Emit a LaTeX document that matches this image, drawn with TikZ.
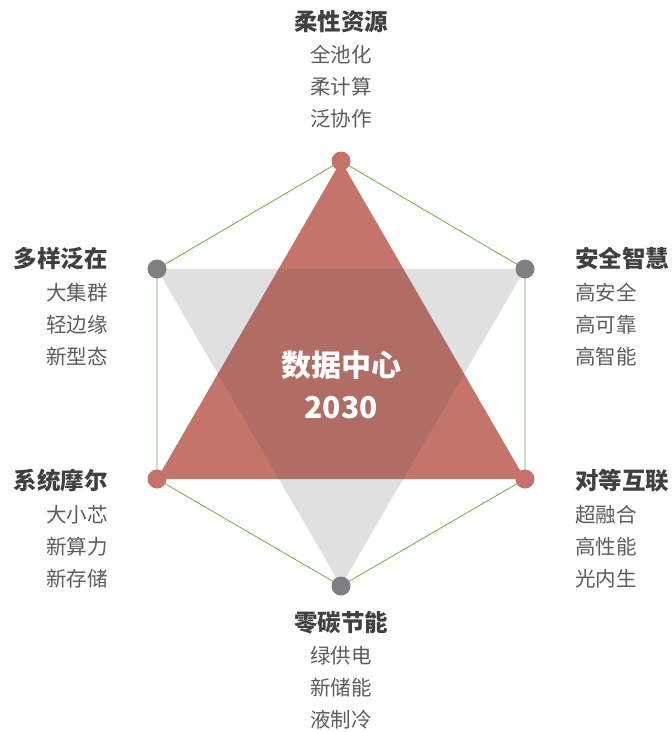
\documentclass[tikz,border=0pt]{standalone}
\usepackage{fontspec}
\setmainfont{Noto Sans CJK SC}
\usetikzlibrary{positioning}
\definecolor{hexgreen}{RGB}{112,173,71}
\definecolor{trired}{RGB}{196,117,107}
\definecolor{dotred}{RGB}{197,115,106}
\definecolor{dotgrey}{RGB}{127,127,131}
\definecolor{headgrey}{RGB}{64,64,64}
\definecolor{entrygrey}{RGB}{92,92,92}
\tikzstyle{reddot} = [circle, fill=dotred, inner sep=0pt, minimum size=19pt]
\tikzstyle{greydot} = [circle, fill=dotgrey, inner sep=0pt, minimum size=19pt]
\tikzstyle{heading} = [font=\fontsize{23.5}{23.5}\selectfont\bfseries, text=headgrey,
 inner sep=0pt, text height=19.8pt, text depth=3.7pt]
\tikzstyle{entry} = [font=\fontsize{20.5}{20.5}\selectfont, text=entrygrey,
 inner sep=0pt, text height=17.3pt, text depth=3.2pt]
\tikzstyle{hexline} = [draw=hexgreen, line width=0.8pt]

\begin{document}
\begin{tikzpicture}[x=1pt, y=-1pt]
 	\useasboundingbox (0,0) rectangle (672,732);
 	
 	\coordinate (t) at (341,161);
 	\coordinate (ur) at (525,269);
 	\coordinate (lr) at (525,479);
 	\coordinate (b) at (341,586);
 	\coordinate (ll) at (157,479);
 	\coordinate (ul) at (157,269);
 	
 	\draw [hexline] (t) -- (ur) -- (lr) -- (b) -- (ll) -- (ul) -- cycle;
 	\fill [trired] (t) -- (lr) -- (ll) -- cycle;
 	\fill [black!71, opacity=0.17] (ul) -- (ur) -- (b) -- cycle;
 	
 	\node [reddot] (tdot) at (t) {};
 	\node [reddot] (lrdot) at (lr) {};
 	\node [reddot] (lldot) at (ll) {};
 	\node [greydot] (uldot) at (ul) {};
 	\node [greydot] (urdot) at (ur) {};
 	\node [greydot] (bdot) at (b) {};
 	
 	\node [font=\fontsize{30}{42}\selectfont\bfseries, text=white, align=center] (dc) at (341,385) {数据中心\\2030};
 	
 	% top
 	\node [heading] (h1) at (341,22) {柔性资源};
 	\node [entry, below=11pt of h1] (h1a) {全池化};
 	\node [entry, below=11pt of h1a] (h1b) {柔计算};
 	\node [entry, below=11pt of h1b] (h1c) {泛协作};
 	
 	% upper right
 	\node [heading, anchor=west] (h2) at (575,259) {安全智慧};
 	\node [entry, below right=12pt and 0pt of h2.south west] (h2a) {高安全};
 	\node [entry, below right=11pt and 0pt of h2a.south west] (h2b) {高可靠};
 	\node [entry, below right=11pt and 0pt of h2b.south west] (h2c) {高智能};
 	
 	% lower right
 	\node [heading, anchor=west] (h3) at (575,481) {对等互联};
 	\node [entry, below right=12pt and 0pt of h3.south west] (h3a) {超融合};
 	\node [entry, below right=11pt and 0pt of h3a.south west] (h3b) {高性能};
 	\node [entry, below right=11pt and 0pt of h3b.south west] (h3c) {光内生};
 	
 	% bottom
 	\node [heading] (h4) at (341,623) {零碳节能};
 	\node [entry, below=11pt of h4] (h4a) {绿供电};
 	\node [entry, below=11pt of h4a] (h4b) {新储能};
 	\node [entry, below=11pt of h4b] (h4c) {液制冷};
 	
 	% lower left
 	\node [heading, anchor=east] (h5) at (108,481) {系统摩尔};
 	\node [entry, below left=12pt and 0pt of h5.south east] (h5a) {大小芯};
 	\node [entry, below left=11pt and 0pt of h5a.south east] (h5b) {新算力};
 	\node [entry, below left=11pt and 0pt of h5b.south east] (h5c) {新存储};
 	
 	% upper left
 	\node [heading, anchor=east] (h6) at (108,259) {多样泛在};
 	\node [entry, below left=12pt and 0pt of h6.south east] (h6a) {大集群};
 	\node [entry, below left=11pt and 0pt of h6a.south east] (h6b) {轻边缘};
 	\node [entry, below left=11pt and 0pt of h6b.south east] (h6c) {新型态};
 	
\end{tikzpicture}
\end{document}
